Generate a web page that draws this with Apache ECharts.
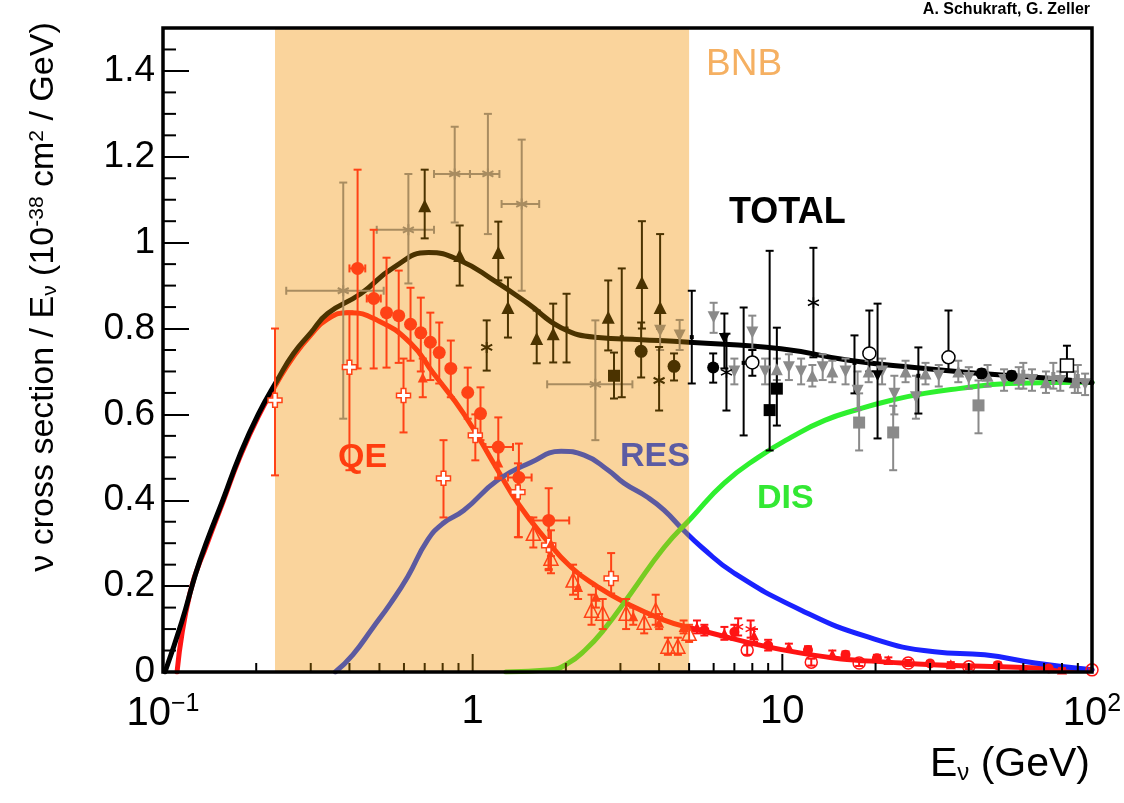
<!DOCTYPE html>
<html>
<head>
<meta charset="utf-8">
<title>Neutrino cross sections</title>
<script src="https://cdn.jsdelivr.net/npm/echarts@6.0.0/dist/echarts.min.js"></script>
<style>
  html, body { margin: 0; padding: 0; background: #fff; }
  #chart { width: 1124px; height: 803px; }
</style>
</head>
<body>
<div id="chart"></div>
<script>
const FONT = 'Liberation Sans';

// BNB flux band (GeV)
const bnbRange = [0.23, 5];

// axis ticks
const xMajorTicks = [0.1, 1, 10, 100];
const xMinorTicks = [0.2, 0.3, 0.4, 0.5, 0.6, 0.7, 0.8, 0.9, 2, 3, 4, 5, 6, 7, 8, 9, 20, 30, 40, 50, 60, 70, 80, 90];
const yMinorTicks = [0.05, 0.1, 0.15, 0.25, 0.3, 0.35, 0.45, 0.5, 0.55, 0.65, 0.7, 0.75, 0.85, 0.9, 0.95,
  1.05, 1.1, 1.15, 1.25, 1.3, 1.35, 1.45];

// model curves: E (GeV) and sigma/E
const totalE = [0.1015, 0.115, 0.128, 0.139, 0.156, 0.177, 0.203, 0.234, 0.264, 0.30, 0.34, 0.435, 0.555, 0.72,
  0.914, 1.17, 1.51, 1.93, 2.54, 3.5, 5, 9.9, 16.4, 26.7, 44, 72.6, 100];
const totalY = [0, 0.117, 0.233, 0.307, 0.40, 0.505, 0.60, 0.68, 0.742, 0.79, 0.835, 0.881, 0.942, 0.977,
  0.958, 0.912, 0.858, 0.802, 0.779, 0.774, 0.768, 0.753, 0.726, 0.709, 0.695, 0.684, 0.674];

const qeE = [0.111, 0.1223, 0.139, 0.156, 0.177, 0.203, 0.234, 0.264, 0.30, 0.34, 0.397, 0.493, 0.63, 0.748,
  0.935, 1.205, 1.40, 1.70, 2.08, 2.54, 3.08, 4.15, 5.1, 11.5, 24.3, 51, 100];
const qeY = [0, 0.185, 0.30, 0.395, 0.50, 0.595, 0.675, 0.735, 0.785, 0.822, 0.837, 0.819, 0.766, 0.695,
  0.602, 0.47, 0.393, 0.314, 0.244, 0.198, 0.163, 0.121, 0.102, 0.044, 0.021, 0.012, 0.005];

const resE = [0.36, 0.41, 0.478, 0.543, 0.617, 0.715, 0.805, 0.935, 1.205, 1.54, 1.93, 2.29, 2.74, 3.08, 3.67,
  4.15, 4.8, 5.5, 7.0, 11.5, 19, 31, 45, 65.5, 100];
const resY = [0, 0.04, 0.105, 0.16, 0.222, 0.307, 0.347, 0.376, 0.447, 0.488, 0.514, 0.505, 0.47, 0.44, 0.407,
  0.377, 0.33, 0.29, 0.23, 0.144, 0.081, 0.047, 0.04, 0.021, 0.005];

const disE = [1.28, 1.79, 2.03, 2.3, 2.65, 3.24, 4.15, 5.1, 6.49, 8.36, 10.7, 13.7, 17.6, 22.5, 28.8, 37.1, 53.8, 100];
const disY = [0, 0.005, 0.02, 0.05, 0.098, 0.183, 0.29, 0.36, 0.44, 0.50, 0.547, 0.586, 0.612, 0.633, 0.649, 0.66, 0.672, 0.675];

// measurements: [E, y, yLow, yHigh, (eLow, eHigh)]
const qeOpenCross = [
  [0.23, 0.633, 0.458, 0.80], [0.40, 0.71, 0.47, 0.84], [0.598, 0.644, 0.558, 0.73], [0.805, 0.451, 0.36, 0.54],
  [1.02, 0.551, 0.493, 0.60], [1.40, 0.419, 0.314, 0.486], [1.76, 0.295, 0.24, 0.35], [2.80, 0.218, 0.183, 0.277]
];
const qeCircle = [
  [0.425, 0.94, 0.707, 1.17, 0.40, 0.45], [0.479, 0.87, 0.707, 1.03, 0.455, 0.505], [0.527, 0.837, 0.709, 0.965],
  [0.577, 0.83, 0.72, 0.935], [0.63, 0.81, 0.725, 0.895], [0.68, 0.79, 0.70, 0.872], [0.73, 0.768, 0.68, 0.837],
  [0.78, 0.744, 0.672, 0.814], [0.85, 0.707, 0.64, 0.772], [0.964, 0.651, 0.59, 0.709], [1.06, 0.602, 0.54, 0.663],
  [1.21, 0.524, 0.453, 0.593, 1.10, 1.35], [1.41, 0.453, 0.314, 0.532, 1.30, 1.55], [1.76, 0.353, 0.237, 0.428, 1.55, 2.05]
];
const qeOpenTri = [
  [1.57, 0.323, 0.29, 0.36], [1.79, 0.265, 0.23, 0.30], [2.11, 0.214, 0.18, 0.25], [2.42, 0.144, 0.11, 0.18],
  [2.63, 0.137, 0.10, 0.17], [3.13, 0.137, 0.10, 0.17], [3.58, 0.116, 0.09, 0.14], [3.9, 0.144, 0.11, 0.18],
  [4.27, 0.06, 0.04, 0.08], [4.6, 0.06, 0.04, 0.08], [5.0, 0.09, 0.07, 0.11]
];
const qeTri = [
  [0.69, 0.686, 0.64, 0.73], [1.21, 0.488, 0.45, 0.53], [1.79, 0.30, 0.27, 0.33], [2.19, 0.198, 0.17, 0.23],
  [2.5, 0.175, 0.15, 0.20], [3.3, 0.13, 0.11, 0.15], [4.0, 0.115, 0.10, 0.135], [4.8, 0.105, 0.09, 0.12]
];
const redCircle = [
  [5.6, 0.098, 0.085, 0.11], [7.0, 0.093, 0.075, 0.11], [9.0, 0.062, 0.05, 0.075], [12.1, 0.051, 0.042, 0.06],
  [16.0, 0.04, 0.033, 0.048], [20.2, 0.032, 0.025, 0.04], [30, 0.02, 0.015, 0.026], [49.6, 0.016, 0.01, 0.022],
  [72.5, 0.008, 0.004, 0.012]
];
const redOpenCircle = [
  [7.7, 0.051, 0.04, 0.062], [12.4, 0.023, 0.015, 0.031], [17.7, 0.021, 0.014, 0.028], [25.5, 0.021, 0.014, 0.028],
  [40, 0.012, 0.007, 0.017], [100, 0.005, 0.002, 0.008]
];
const redTri = [
  [5.3, 0.105, 0.09, 0.12], [6.5, 0.09, 0.075, 0.105], [8.1, 0.085, 0.07, 0.10], [10.5, 0.058, 0.05, 0.066],
  [14.5, 0.042, 0.035, 0.05], [22, 0.028, 0.022, 0.034], [35, 0.018, 0.013, 0.023], [60, 0.01, 0.006, 0.014],
  [80, 0.006, 0.003, 0.009]
];
const redStar = [[7.2, 0.105, 0.085, 0.125], [7.9, 0.10, 0.08, 0.12]];

const brownTri = [
  [0.70, 1.086, 1.01, 1.17], [0.908, 0.97, 0.90, 1.04], [1.21, 0.977, 0.912, 1.049], [1.30, 0.849, 0.779, 0.919],
  [1.61, 0.777, 0.719, 0.842], [1.82, 0.788, 0.721, 0.858], [2.74, 0.826, 0.749, 0.912], [3.52, 0.907, 0.80, 1.05],
  [4.03, 0.849, 0.80, 1.02]
];
const brownBar = [[2.01, 0.80, 0.721, 0.881], [3.03, 0.78, 0.64, 0.94]];
const brownStar = [[1.11, 0.756, 0.702, 0.819], [4.0, 0.679, 0.609, 0.757]];
const brownCircle = [[3.5, 0.747, 0.686, 0.814], [4.47, 0.712, 0.679, 0.742]];
const brownSquare = [[2.86, 0.69, 0.637, 0.744]];
const tanStar = [
  [0.382, 0.888, 0.59, 1.14, 0.25, 0.516], [0.62, 1.03, 0.905, 1.16, 0.49, 0.75], [0.875, 1.16, 1.047, 1.27, 0.75, 0.98],
  [1.12, 1.16, 1.02, 1.30, 0.98, 1.22], [1.44, 1.09, 0.888, 1.24, 1.24, 1.64], [2.49, 0.67, 0.54, 0.819, 1.74, 3.28]
];
const tanInvTri = [[4.03, 0.795, 0.75, 0.84], [4.66, 0.784, 0.75, 0.82]];

const blackBar = [[5.1, 0.78, 0.672, 0.888], [7.5, 0.72, 0.551, 0.849], [17.1, 0.72, 0.649, 0.784], [27.5, 0.69, 0.602, 0.756]];
const blackCircle = [[5.98, 0.709, 0.674, 0.742], [44, 0.695, 0.685, 0.705], [55, 0.69, 0.68, 0.70]];
const blackInvTri = [[6.5, 0.777, 0.707, 0.835], [20.3, 0.69, 0.544, 0.858]];
const blackStar = [[6.6, 0.698, 0.609, 0.788], [12.6, 0.86, 0.733, 0.988]];
const blackSquare = [[9.1, 0.61, 0.516, 0.981], [9.6, 0.66, 0.574, 0.802, 2.9, 16]];
const blackOpenCircle = [[8.0, 0.721, 0.69, 0.75], [19.1, 0.742, 0.70, 0.842], [34.4, 0.733, 0.70, 0.842]];
const blackOpenSquare = [[83, 0.714, 0.68, 0.76]];

const grayInvTri = [
  [6.0, 0.826, 0.79, 0.86], [7.0, 0.70, 0.67, 0.73], [8.0, 0.791, 0.75, 0.83], [8.8, 0.70, 0.67, 0.73],
  [10.5, 0.71, 0.68, 0.74], [11.5, 0.70, 0.67, 0.73], [13.5, 0.71, 0.68, 0.74], [16, 0.70, 0.67, 0.73],
  [17.5, 0.655, 0.61, 0.70], [21, 0.70, 0.67, 0.73], [23, 0.648, 0.60, 0.69], [27, 0.64, 0.59, 0.69],
  [32, 0.69, 0.665, 0.715], [40, 0.685, 0.66, 0.71], [52, 0.68, 0.655, 0.705], [64, 0.68, 0.655, 0.705],
  [79, 0.678, 0.655, 0.70], [95, 0.67, 0.645, 0.695]
];
const grayTri = [
  [9.6, 0.705, 0.68, 0.73], [12.5, 0.69, 0.665, 0.715], [14.5, 0.70, 0.675, 0.725], [19, 0.70, 0.675, 0.725],
  [25, 0.70, 0.675, 0.725], [29, 0.695, 0.67, 0.72], [37, 0.70, 0.675, 0.725], [46, 0.69, 0.665, 0.715],
  [58, 0.685, 0.66, 0.71], [71, 0.675, 0.65, 0.70], [88, 0.675, 0.65, 0.70]
];
const graySquare = [[17.7, 0.581, 0.516, 0.649], [22.8, 0.558, 0.47, 0.62], [43, 0.621, 0.556, 0.679]];
const grayCross = [[60, 0.69, 0.66, 0.72], [75, 0.685, 0.66, 0.72], [90, 0.68, 0.65, 0.715]];

// colours
const SHADE = '#fad49c';
const BROWN = '#4b3300';
const TAN = '#a88c60';
const GRAY = '#8a8a8a';
const QE_IN = '#ff4216';
const RED = '#ff1414';

const CROSS = 'path://M-1,-3L1,-3L1,-1L3,-1L3,1L1,1L1,3L-1,3L-1,1L-3,1L-3,-1L-1,-1Z';
const STAR = 'path://M0,-5L0,5M-4.3,-2.5L4.3,2.5M-4.3,2.5L4.3,-2.5';

function errorBars(color) {
  return function (params, api) {
    const x = api.value(0), lo = api.value(2), hi = api.value(3);
    const xlo = api.value(4), xhi = api.value(5), y = api.value(1);
    const st = { stroke: color, lineWidth: 2 };
    const cap = 4;
    const a = api.coord([x, lo]), b = api.coord([x, hi]);
    const kids = [
      { type: 'line', shape: { x1: a[0], y1: a[1], x2: b[0], y2: b[1] }, style: st },
      { type: 'line', shape: { x1: a[0] - cap, y1: a[1], x2: a[0] + cap, y2: a[1] }, style: st },
      { type: 'line', shape: { x1: b[0] - cap, y1: b[1], x2: b[0] + cap, y2: b[1] }, style: st }
    ];
    if (xlo > 0 && xhi > 0) {
      const l = api.coord([xlo, y]), r = api.coord([xhi, y]);
      kids.push({ type: 'line', shape: { x1: l[0], y1: l[1], x2: r[0], y2: r[1] }, style: st });
      kids.push({ type: 'line', shape: { x1: l[0], y1: l[1] - cap, x2: l[0], y2: l[1] + cap }, style: st });
      kids.push({ type: 'line', shape: { x1: r[0], y1: r[1] - cap, x2: r[0], y2: r[1] + cap }, style: st });
    }
    return { type: 'group', children: kids };
  };
}

function points(data, color, symbol, size, opts) {
  opts = opts || {};
  return [
    { type: 'custom', silent: true, clip: true, z: 6, data: data, renderItem: errorBars(color) },
    {
      type: 'scatter', silent: true, z: 7, symbol: symbol, symbolSize: size, symbolRotate: opts.rotate || 0,
      data: data.map(d => [d[0], d[1]]),
      itemStyle: { color: opts.fill || color, borderColor: color, borderWidth: opts.border || 0, opacity: 1 }
    }
  ];
}

function curve(xs, ys, z) {
  return {
    type: 'line', silent: true, z: z, smooth: 0.5, showSymbol: false, symbol: 'none',
    data: xs.map((x, i) => [x, ys[i]]), lineStyle: { width: 5, cap: 'round', join: 'round' }
  };
}

function bandPieces(outC, inC) {
  return [
    { gte: 0.05, lt: bnbRange[0], color: outC },
    { gte: bnbRange[0], lt: bnbRange[1], color: inC },
    { gte: bnbRange[1], lte: 200, color: outC }
  ];
}

const series = [];
// BNB band
series.push({
  type: 'custom', silent: true, z: 1, data: [[bnbRange[0], bnbRange[1]]],
  renderItem: (params, api) => {
    const a = api.coord([api.value(0), 1.5]);
    const b = api.coord([api.value(1), 0]);
    return { type: 'rect', shape: { x: a[0], y: a[1], width: b[0] - a[0], height: b[1] - a[1] }, style: { fill: SHADE } };
  }
});
const qeIdx = series.length; series.push(curve(qeE, qeY, 3));
const resIdx = series.length; series.push(curve(resE, resY, 3));
const disIdx = series.length; series.push(curve(disE, disY, 3));
const totIdx = series.length; series.push(curve(totalE, totalY, 4));

series.push(...points(tanStar, TAN, STAR, 11, { fill: 'transparent', border: 2 }));
series.push(...points(tanInvTri, TAN, 'triangle', 12, { rotate: 180 }));
series.push(...points(brownTri, BROWN, 'triangle', 13));
series.push(...points(brownBar, BROWN, 'rect', 4));
series.push(...points(brownStar, BROWN, STAR, 11, { fill: 'transparent', border: 2 }));
series.push(...points(brownCircle, BROWN, 'circle', 13));
series.push(...points(brownSquare, BROWN, 'rect', 12));
series.push(...points(grayInvTri, GRAY, 'triangle', 12, { rotate: 180 }));
series.push(...points(grayTri, GRAY, 'triangle', 12));
series.push(...points(graySquare, GRAY, 'rect', 12));
series.push(...points(grayCross, GRAY, CROSS, 12));
series.push(...points(blackBar, '#000', 'rect', 4));
series.push(...points(blackCircle, '#000', 'circle', 12));
series.push(...points(blackInvTri, '#000', 'triangle', 11, { rotate: 180 }));
series.push(...points(blackStar, '#000', STAR, 11, { fill: 'transparent', border: 1.5 }));
series.push(...points(blackSquare, '#000', 'rect', 12));
series.push(...points(blackOpenCircle, '#000', 'circle', 13, { fill: '#fff', border: 1.5 }));
series.push(...points(blackOpenSquare, '#000', 'rect', 13, { fill: '#fff', border: 1.5 }));
series.push(...points(qeOpenTri, QE_IN, 'triangle', 14, { fill: 'transparent', border: 1.5 }));
series.push(...points(qeOpenCross, QE_IN, CROSS, 14, { fill: '#fff', border: 1.5 }));
series.push(...points(qeTri, QE_IN, 'triangle', 10));
series.push(...points(qeCircle, QE_IN, 'circle', 13));
series.push(...points(redTri, RED, 'triangle', 10));
series.push(...points(redCircle, RED, 'circle', 10));
series.push(...points(redOpenCircle, RED, 'circle', 12, { fill: 'transparent', border: 1.5 }));
series.push(...points(redStar, RED, STAR, 10, { fill: 'transparent', border: 1.5 }));

// x ticks (major + log minor) and y minor ticks
series.push({
  type: 'custom', silent: true, clip: false, z: 9,
  data: xMajorTicks.map(v => [v, 0, 18]).concat(xMinorTicks.map(v => [v, 0, 9])),
  renderItem: (params, api) => {
    const v = api.value(0), p = api.coord([v, 0]);
    const inBand = v > bnbRange[0] && v < bnbRange[1];
    return { type: 'line', shape: { x1: p[0], y1: p[1], x2: p[0], y2: p[1] - api.value(2) },
      style: { stroke: inBand ? BROWN : '#000', lineWidth: 2 } };
  }
});
series.push({
  type: 'custom', silent: true, clip: false, z: 9,
  data: yMinorTicks.map(v => [0.1, v, 13]),
  renderItem: (params, api) => {
    const p = api.coord([0.1, api.value(1)]);
    return { type: 'line', shape: { x1: p[0], y1: p[1], x2: p[0] + api.value(2), y2: p[1] },
      style: { stroke: '#000', lineWidth: 2 } };
  }
});

const chart = echarts.init(document.getElementById('chart'));
chart.setOption({
  animation: false,
  backgroundColor: '#fff',
  grid: {
    left: 163, right: 32, top: 28, bottom: 131, show: true, z: 20,
    backgroundColor: 'transparent', borderColor: '#000', borderWidth: 3.5,
    outerBoundsMode: 'none'
  },
  xAxis: {
    type: 'log', logBase: 10, min: 0.1, max: 100, z: 15,
    axisLine: { show: false }, axisTick: { show: false }, splitLine: { show: false },
    axisLabel: {
      margin: 20, color: '#000', fontFamily: FONT, fontSize: 40,
      formatter: v => {
        const p = Math.round(Math.log10(v));
        if (p === 0) return '1';
        if (p === 1) return '10';
        return '{b|10}{s|' + (p < 0 ? '\u2212' + (-p) : p) + '}';
      },
      rich: {
        b: { fontSize: 40, fontFamily: FONT, color: '#000', lineHeight: 44 },
        s: { fontSize: 25, fontFamily: FONT, color: '#000', lineHeight: 26, verticalAlign: 'top' }
      }
    }
  },
  yAxis: {
    type: 'value', min: 0, max: 1.5, interval: 0.2, z: 15,
    axisLine: { show: false }, splitLine: { show: false },
    axisTick: { show: true, inside: true, length: 26, lineStyle: { color: '#000', width: 2 } },
    axisLabel: {
      margin: 8, color: '#000', fontFamily: FONT, fontSize: 37,
      formatter: v => (v > 1.45 ? '' : String(Math.round(v * 10) / 10))
    }
  },
  visualMap: [
    { type: 'piecewise', show: false, dimension: 0, seriesIndex: totIdx, pieces: bandPieces('#000', BROWN) },
    { type: 'piecewise', show: false, dimension: 0, seriesIndex: qeIdx, pieces: bandPieces(RED, '#ff4010') },
    { type: 'piecewise', show: false, dimension: 0, seriesIndex: resIdx, pieces: bandPieces('#1a22ff', '#5c5aa0') },
    { type: 'piecewise', show: false, dimension: 0, seriesIndex: disIdx, pieces: bandPieces('#2ef02e', '#77cc22') }
  ],
  graphic: [
    {
      type: 'text', x: 44, y: 297, rotation: Math.PI / 2, z: 30,
      style: {
        text: '\u03bd cross section / E{s|\u03bd} (10{p|-38} cm{p|2} / GeV)',
        fontFamily: FONT, fontSize: 34, fill: '#000', align: 'center', verticalAlign: 'middle',
        rich: {
          s: { fontFamily: FONT, fontSize: 21, fill: '#000', verticalAlign: 'bottom', lineHeight: 21 },
          p: { fontFamily: FONT, fontSize: 21, fill: '#000', verticalAlign: 'top', lineHeight: 21 }
        }
      }
    },
    {
      type: 'text', x: 1090, y: 765, z: 30,
      style: {
        text: 'E{s|\u03bd} (GeV)', fontFamily: FONT, fontSize: 41, fill: '#000', align: 'right', verticalAlign: 'middle',
        rich: { s: { fontFamily: FONT, fontSize: 24, fill: '#000', verticalAlign: 'bottom', lineHeight: 24 } }
      }
    },
    { type: 'text', x: 1090, y: 10, z: 30, style: { text: 'A. Schukraft, G. Zeller', fontFamily: FONT, fontWeight: 'bold', fontSize: 16, fill: '#000', align: 'right', verticalAlign: 'middle' } },
    { type: 'text', x: 706, y: 65, z: 30, style: { text: 'BNB', fontFamily: FONT, fontSize: 37, fill: '#f5b062', align: 'left', verticalAlign: 'middle' } },
    { type: 'text', x: 729, y: 213, z: 30, style: { text: 'TOTAL', fontFamily: FONT, fontWeight: 'bold', fontSize: 36, fill: '#000', align: 'left', verticalAlign: 'middle' } },
    { type: 'text', x: 338, y: 458, z: 30, style: { text: 'QE', fontFamily: FONT, fontWeight: 'bold', fontSize: 34, fill: '#ff3d0f', align: 'left', verticalAlign: 'middle' } },
    { type: 'text', x: 620, y: 457, z: 30, style: { text: 'RES', fontFamily: FONT, fontWeight: 'bold', fontSize: 34, fill: '#5b5ba3', align: 'left', verticalAlign: 'middle' } },
    { type: 'text', x: 757, y: 499, z: 30, style: { text: 'DIS', fontFamily: FONT, fontWeight: 'bold', fontSize: 34, fill: '#33e833', align: 'left', verticalAlign: 'middle' } }
  ],
  series: series
});
</script>
</body>
</html>
